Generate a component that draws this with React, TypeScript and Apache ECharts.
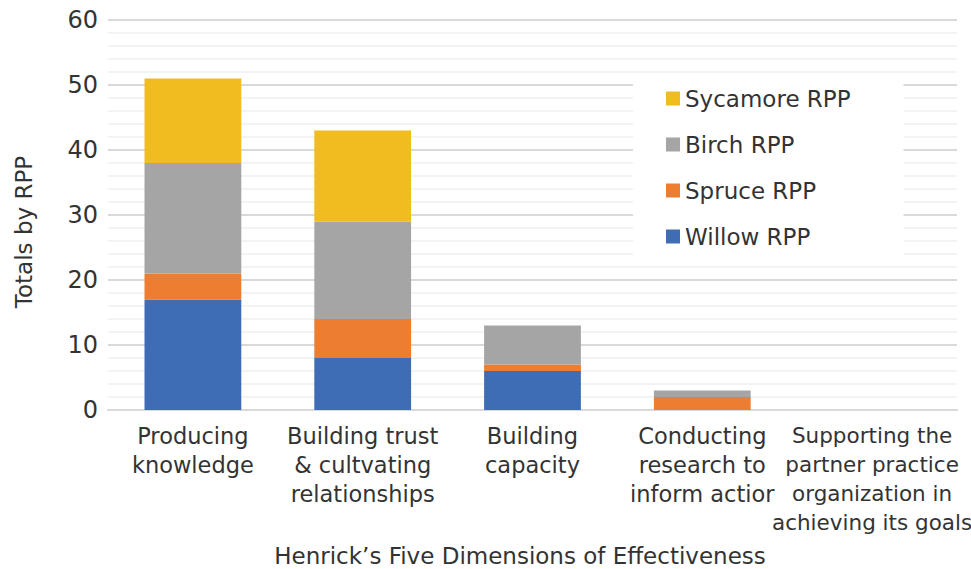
import React, { useEffect, useRef } from "react";
import * as echarts from "echarts";

const categories = [
  "Producing\nknowledge",
  "Building trust\n& cultvating\nrelationships",
  "Building\ncapacity",
  "Conducting\nresearch to\ninform actior",
  "Supporting the\npartner practice\norganization in\nachieving its goals",
];
const willow = [17, 8, 6, 0, 0];
const spruce = [4, 6, 1, 2, 0];
const birch = [17, 15, 6, 1, 0];
const sycamore = [13, 14, 0, 0, 0];
const yTicks = { min: 0, max: 60, interval: 10 };

const FONT = "DejaVu Sans";
const TXT = "#333333";

export default function App() {
  const ref = useRef<HTMLDivElement>(null);
  useEffect(() => {
    if (!ref.current) return;
    const chart = echarts.init(ref.current, null, { renderer: "svg" });
    const mk = (name: string, data: number[], color: string) => ({
      name,
      type: "bar",
      stack: "total",
      data,
      barWidth: "57%",
      itemStyle: { color },
    });
    chart.setOption({
      animation: false,
      backgroundColor: "#ffffff",
      textStyle: { fontFamily: FONT },
      grid: {
        left: 108,
        right: 14,
        top: 20,
        bottom: 159,
        containLabel: false,
        outerBoundsMode: "none",
      },
      legend: {
        orient: "vertical",
        left: 633,
        top: 75,
        backgroundColor: "#ffffff",
        padding: [12, 53, 18, 33],
        itemWidth: 14,
        itemHeight: 14,
        itemGap: 23,
        icon: "rect",
        data: ["Sycamore RPP", "Birch RPP", "Spruce RPP", "Willow RPP"],
        textStyle: { fontSize: 23, color: TXT, fontFamily: FONT },
      },
      xAxis: {
        type: "category",
        data: categories,
        axisLine: { show: true, lineStyle: { color: "#d9d9d9", width: 2 } },
        axisTick: { show: false },
        axisLabel: {
          interval: 0,
          fontSize: 22.5,
          lineHeight: 29,
          color: TXT,
          margin: 11,
          fontFamily: FONT,
          formatter: (v: string, i: number) =>
            i === categories.length - 1
              ? v
                  .split("\n")
                  .map((l) => `{s|${l}}`)
                  .join("\n")
              : v,
          rich: {
            s: {
              fontSize: 21.5,
              lineHeight: 29,
              color: TXT,
              fontFamily: FONT,
            },
          },
        },
      },
      yAxis: {
        type: "value",
        min: yTicks.min,
        max: yTicks.max,
        interval: yTicks.interval,
        axisLine: { show: false },
        axisTick: { show: false },
        axisLabel: { fontSize: 24, color: TXT, margin: 10, fontFamily: FONT },
        splitLine: { show: true, lineStyle: { color: "#d9d9d9", width: 2 } },
        minorTick: { show: false, splitNumber: 5 },
        minorSplitLine: { show: true, lineStyle: { color: "#efefef", width: 1.5 } },
      },
      graphic: [
        {
          type: "text",
          x: 24,
          y: 232,
          rotation: Math.PI / 2,
          style: {
            text: "Totals by RPP",
            fontSize: 23,
            fill: TXT,
            fontFamily: FONT,
            align: "center",
            verticalAlign: "middle",
          },
        },
        {
          type: "text",
          x: 520,
          y: 556,
          style: {
            text: "Henrick\u2019s Five Dimensions of Effectiveness",
            fontSize: 23,
            fill: TXT,
            fontFamily: FONT,
            align: "center",
            verticalAlign: "middle",
          },
        },
      ],
      series: [
        mk("Willow RPP", willow, "#3E6DB5"),
        mk("Spruce RPP", spruce, "#ED7D31"),
        mk("Birch RPP", birch, "#A5A5A5"),
        mk("Sycamore RPP", sycamore, "#F1BC20"),
      ],
    });
    return () => chart.dispose();
  }, []);
  return (
    <div
      ref={ref}
      style={{ position: "fixed", left: 0, top: 0, width: 971, height: 569 }}
    />
  );
}
